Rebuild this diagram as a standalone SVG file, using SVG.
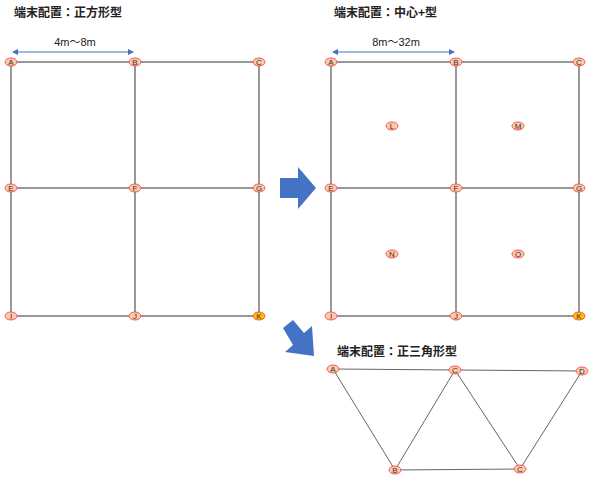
<svg xmlns="http://www.w3.org/2000/svg" width="600" height="490" viewBox="0 0 600 490">
<style>
.t{font-family:"Noto Sans CJK JP","Liberation Sans",sans-serif;font-weight:bold;font-size:12px;fill:#222}
.l{font-family:"Liberation Sans",sans-serif;font-size:8px;fill:#333;text-anchor:middle}
.d{font-family:"Liberation Sans","Noto Sans CJK JP",sans-serif;font-size:11px;fill:#222;text-anchor:middle}
.n{fill:#f8cbad;stroke:#ff5050;stroke-width:1}
.k{fill:#ffc000;stroke:#ff5050;stroke-width:1}
.e{stroke:#777;stroke-width:1.5;fill:none}
.tr{stroke:#666;stroke-width:1;fill:none}
.dim{stroke:#4472c4;stroke-width:1;marker-start:url(#ah);marker-end:url(#ah)}
</style>
<defs>
<marker id="ah" viewBox="0 0 6 6" refX="5" refY="3" markerWidth="6" markerHeight="6" orient="auto-start-reverse"><path d="M0,0 L6,3 L0,6 z" fill="#4472c4"/></marker>
</defs>
<rect width="600" height="490" fill="#fff"/>
<text class="t" x="14" y="17">端末配置：正方形型</text>
<text class="t" x="334" y="17">端末配置：中心+型</text>
<text class="t" x="337" y="356">端末配置：正三角形型</text>
<g id="dims">
<line class="dim" x1="13" y1="52" x2="133" y2="52"/>
<text class="d" x="75" y="46">4m〜8m</text>
<line class="dim" x1="333" y1="52" x2="454" y2="52"/>
<text class="d" x="396" y="46">8m〜32m</text>
</g>
<g id="connectors">
<path class="e" d="M11,62H259V316H11ZM135,62V316M11,188H259"/>
<path class="e" d="M331,62H579V316H331ZM456,62V316M331,188H579"/>
<path class="tr" d="M333,369L582,371M333,369L395,470L520,469L582,371M395,470L455,370L520,469"/>
</g>
<g id="arrows" fill="#4472c4">
<polygon points="280,178 298,178 298,167 316,188 298,209 298,198 280,198"/>
<polygon points="283,328 293,320 304,333 312,326 314,356 285,352 293,345"/>
</g>
<g id="nodes">
<g id="A1"><ellipse class="n" cx="11" cy="62" rx="6" ry="4"/><text class="l" x="11" y="65">A</text></g>
<g id="B1"><ellipse class="n" cx="135" cy="62" rx="6" ry="4"/><text class="l" x="135" y="65">B</text></g>
<g id="C1"><ellipse class="n" cx="259" cy="62" rx="6" ry="4"/><text class="l" x="259" y="65">C</text></g>
<g id="E1"><ellipse class="n" cx="11" cy="188" rx="6" ry="4"/><text class="l" x="11" y="191">E</text></g>
<g id="F1"><ellipse class="n" cx="135" cy="188" rx="6" ry="4"/><text class="l" x="135" y="191">F</text></g>
<g id="G1"><ellipse class="n" cx="259" cy="188" rx="6" ry="4"/><text class="l" x="259" y="191">G</text></g>
<g id="I1"><ellipse class="n" cx="11" cy="316" rx="6" ry="4"/><text class="l" x="11" y="319">I</text></g>
<g id="J1"><ellipse class="n" cx="135" cy="316" rx="6" ry="4"/><text class="l" x="135" y="319">J</text></g>
<g id="K1"><ellipse class="k" cx="259" cy="316" rx="6" ry="4"/><text class="l" x="259" y="319">K</text></g>
<g id="A2"><ellipse class="n" cx="331" cy="62" rx="6" ry="4"/><text class="l" x="331" y="65">A</text></g>
<g id="B2"><ellipse class="n" cx="456" cy="62" rx="6" ry="4"/><text class="l" x="456" y="65">B</text></g>
<g id="C2"><ellipse class="n" cx="579" cy="62" rx="6" ry="4"/><text class="l" x="579" y="65">C</text></g>
<g id="E2"><ellipse class="n" cx="331" cy="188" rx="6" ry="4"/><text class="l" x="331" y="191">E</text></g>
<g id="F2"><ellipse class="n" cx="456" cy="188" rx="6" ry="4"/><text class="l" x="456" y="191">F</text></g>
<g id="G2"><ellipse class="n" cx="579" cy="188" rx="6" ry="4"/><text class="l" x="579" y="191">G</text></g>
<g id="I2"><ellipse class="n" cx="331" cy="316" rx="6" ry="4"/><text class="l" x="331" y="319">I</text></g>
<g id="J2"><ellipse class="n" cx="456" cy="316" rx="6" ry="4"/><text class="l" x="456" y="319">J</text></g>
<g id="K2"><ellipse class="k" cx="579" cy="316" rx="6" ry="4"/><text class="l" x="579" y="319">K</text></g>
<g id="L"><ellipse class="n" cx="392" cy="126" rx="6" ry="4"/><text class="l" x="392" y="129">L</text></g>
<g id="M"><ellipse class="n" cx="518" cy="126" rx="6" ry="4"/><text class="l" x="518" y="129">M</text></g>
<g id="N"><ellipse class="n" cx="392" cy="254" rx="6" ry="4"/><text class="l" x="392" y="257">N</text></g>
<g id="O"><ellipse class="n" cx="518" cy="254" rx="6" ry="4"/><text class="l" x="518" y="257">O</text></g>
<g id="A3"><ellipse class="n" cx="333" cy="369" rx="6" ry="4"/><text class="l" x="333" y="372">A</text></g>
<g id="C3"><ellipse class="n" cx="455" cy="370" rx="6" ry="4"/><text class="l" x="455" y="373">C</text></g>
<g id="D3"><ellipse class="n" cx="582" cy="371" rx="6" ry="4"/><text class="l" x="582" y="374">D</text></g>
<g id="B3"><ellipse class="n" cx="395" cy="470" rx="6" ry="4"/><text class="l" x="395" y="473">B</text></g>
<g id="C4"><ellipse class="n" cx="520" cy="469" rx="6" ry="4"/><text class="l" x="520" y="472">C</text></g>
</g>
</svg>
